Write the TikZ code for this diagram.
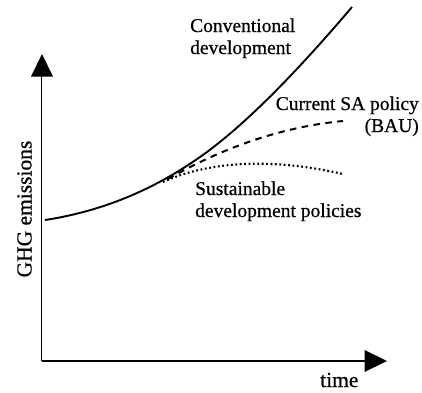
\documentclass[tikz,border=0pt]{standalone}
\usepackage{fontspec}
\setmainfont{Liberation Serif}
\newfontfamily\heavyserif{Liberation Serif}[FakeBold=0.6]
\begin{document}
\begin{tikzpicture}[x=1pt,y=-1pt,
  axis/.style={line width=1.2pt},
  tip/.style={fill=black},
  lbl/.style={font=\heavyserif\fontsize{19.5}{22}\selectfont, inner sep=0pt},
  axlbl/.style={font=\heavyserif\fontsize{21.5}{24}\selectfont, inner sep=0pt},
  solidcurve/.style={line width=1.9pt},
  dashcurve/.style={line width=2pt, dash pattern=on 6.5pt off 5.5pt},
  dotcurve/.style={line width=2.1pt, dash pattern=on 1.8pt off 2.6pt}]
\useasboundingbox (0,0) rectangle (422,392);
% axes
\coordinate (O) at (41.5,361);
\coordinate (Ytop) at (41.5,76);
\coordinate (Xend) at (365,361);
\draw[axis] (O) -- (Ytop);
\draw[axis] (O) -- (Xend);
\fill[tip] (42,54) -- (31,76.5) -- (53,76.5) -- cycle;
\fill[tip] (387,361) -- (364.5,350) -- (364.5,372) -- cycle;
% curves
\coordinate (s0) at (45,220);
\coordinate (s1) at (200,157);
\coordinate (s2) at (352,7);
\draw[solidcurve] (s0) .. controls (110,210) and (160,185) .. (s1)
                       .. controls (240,129) and (290,80) .. (s2);
\coordinate (d0) at (168,179);
\coordinate (d1) at (343,121);
\draw[dashcurve] (d0) .. controls (210,155) and (270,128) .. (d1);
\coordinate (p0) at (163,182);
\coordinate (p1) at (343,174);
\draw[dotcurve] (p0) .. controls (200,165) and (260,155) .. (p1);
% labels
\node[lbl, anchor=base west, align=left] (conv) at (190,54) {Conventional\\development};
\node[lbl, anchor=base east, align=right] (bau) at (419,132) {Current SA policy\\(BAU)};
\node[lbl, anchor=base west, align=left] (sust) at (195,217) {Sustainable\\development policies};
\node[axlbl, anchor=base, rotate=90] (ylab) at (31.5,209) {GHG emissions};
\node[axlbl, anchor=base west] (xlab) at (320,387) {time};
\end{tikzpicture}
\end{document}
